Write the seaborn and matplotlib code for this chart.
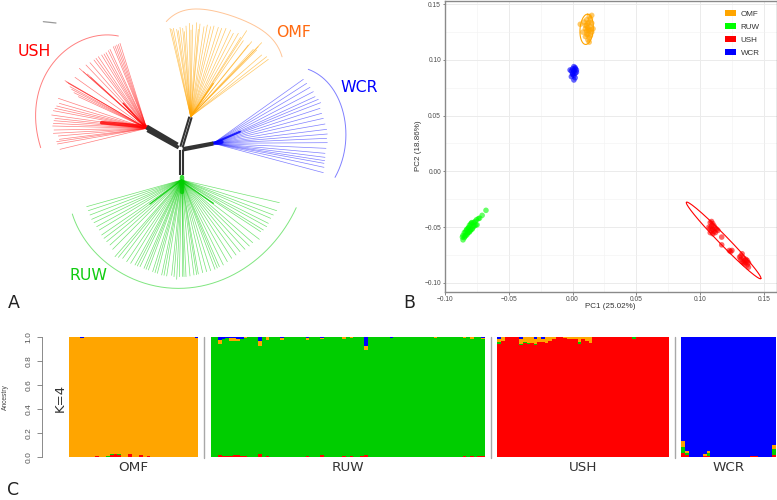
import numpy as np
import pandas as pd
import seaborn as sns
import matplotlib
matplotlib.use("Agg")
import matplotlib.pyplot as plt
from matplotlib.patches import Patch
from matplotlib.lines import Line2D

W, H = 777, 500
ORANGE, LIME, DGREEN, RED, BLUE = "#ffa500", "#00ff00", "#00cd00", "#ff0000", "#0000ff"

# ---------- Panel A: tree layout ----------
omf_hub = (572, 350)
omf_tips = [(510,85),(515,88),(520,85),(530,88),(535,92),(540,82),(548,85),(553,95),(558,78),(568,70),(573,90),(578,75),
            (590,68),(595,88),(600,72),(612,80),(622,75),(632,80),(642,78),(655,82),(665,85),(678,85),(692,90),
            (700,100),(715,100),(740,92),(722,112),(730,122),(755,125),(785,128),(770,150),(785,165),(800,170),
            (805,178),(745,135),(760,148),(775,140)]
wcr_hub = (640, 430)
wcr_tips = [(910,238),(920,250),(930,262),(940,275),(945,290),(955,298),(962,308),(960,325),(965,340),(970,355),
            (975,372),(980,388),(982,402),(980,415),(982,428),(978,445),(975,460),(975,472),(974,482),(972,490),
            (972,502),(970,518)]
ush_hub = (440, 385)
ush_tips = [(360,130),(355,133),(350,135),(345,138),(340,140),(330,148),(325,152),(318,158),(312,162),(305,165),(295,170),
            (288,175),(282,180),(270,188),(258,195),(238,205),(250,215),(262,222),(272,232),(225,232),(195,242),
            (200,246),(205,250),(210,260),(215,268),(222,278),(235,290),(175,295),(178,310),(170,318),(165,325),
            (160,332),(155,345),(165,355),(162,362),(160,370),(158,378),(162,390),(160,400),(175,408),(178,418),
            (170,425),(172,432),(180,448)]
ruw_hub = (545, 540)
ruw_tips = [(260,620),(265,632),(270,645),(275,658),(282,668),(290,680),(298,690),(305,705),(312,715),
            (320,725),(330,735),(338,748),(345,770),(355,772),(368,775),(380,785),(392,790),(405,795),(412,798),(420,800),
            (432,805),(438,808),(445,810),(458,815),(465,818),(472,820),(485,825),(492,826),(500,828),(515,826),(522,830),
            (530,838),(538,830),(545,828),(552,830),(558,830),(570,828),(582,825),(590,824),(595,822),(608,818),(620,815),
            (632,812),(645,808),(652,804),(658,800),(670,795),(682,785),(695,775),(708,765),(720,755),(735,748),
            (748,738),(758,728),(778,718),(782,695),(790,690),(800,680),(805,670),(812,655),(820,645),(830,632),(838,608)]
trunk_strands = [((440,381),(532,435),3.6),((442,391),(536,443),2.6),
                 ((568,350),(541,440),1.5),((575,352),(548,442),1.5),
                 ((640,428),(548,445),1.8),((640,433),(548,451),1.8),
                 ((540,525),(540,450),1.5),((549,525),(549,450),1.5)]
dense_parts = [((305,368),(440,380),RED,2.6),((370,310),(440,385),RED,1.2),
               ((640,430),(720,395),BLUE,1.5),((640,430),(665,426),BLUE,2.8),
               ((545,540),(450,612),DGREEN,1.0),((545,545),(640,610),DGREEN,1.0),
               ((545,530),(545,575),DGREEN,3.2),((572,350),(640,250),ORANGE,1.0)]
arcs = {
    "USH": ([(355,108),(310,105),(250,120),(190,155),(140,220),(110,300),(108,370),(122,443)], RED),
    "OMF": ([(500,65),(530,38),(580,28),(640,32),(700,50),(760,75),(810,110),(835,140),(845,170)], "#ff8c30"),
    "WCR": ([(925,208),(985,250),(1025,320),(1037,400),(1030,470),(1005,532)], BLUE),
    "RUW": ([(217,642),(270,740),(350,810),(440,850),(530,868),(620,855),(720,810),(800,750),(860,680),(888,622)], DGREEN),
}
clade_labels = [("USH",103,155,RED),("OMF",880,97,"#ff6a10"),("WCR",1078,262,BLUE),("RUW",265,827,"#11cc11")]

# ---------- Panel B: PCA scores ----------
omf_pc1 = [0.006,0.008,0.009,0.010,0.010,0.011,0.011,0.011,0.012,0.012,0.012,0.013,0.013,0.013,0.013,
           0.014,0.014,0.014,0.015,0.015,0.015,0.016,0.012,0.011,0.013,0.010,0.014,0.012]
omf_pc2 = [0.132,0.125,0.134,0.121,0.128,0.126,0.131,0.136,0.118,0.123,0.129,0.134,0.139,0.126,0.116,
           0.122,0.130,0.137,0.125,0.133,0.140,0.128,0.127,0.123,0.120,0.131,0.127,0.133]
wcr_pc1 = [-0.002,-0.001,-0.001,0.000,0.000,0.001,0.001,0.001,0.002,0.002,0.002,0.003,0.003,0.001,0.000,0.002]
wcr_pc2 = [0.091,0.090,0.085,0.088,0.092,0.082,0.086,0.090,0.093,0.088,0.084,0.091,0.089,0.094,0.087,0.092]
ruw_pc1 = [-0.0865,-0.0860,-0.0860,-0.0850,-0.0850,-0.0845,-0.0840,-0.0840,-0.0835,-0.0830,-0.0830,-0.0825,
           -0.0820,-0.0820,-0.0815,-0.0810,-0.0810,-0.0805,-0.0800,-0.0800,-0.0795,-0.0790,-0.0790,-0.0785,
           -0.0780,-0.0775,-0.0770,-0.0765,-0.0760,-0.0755,-0.0750,-0.0740,-0.0730,-0.0710,-0.0680]
ruw_pc2 = [-0.0590,-0.0615,-0.0575,-0.0595,-0.0550,-0.0585,-0.0545,-0.0575,-0.0530,-0.0570,-0.0520,-0.0555,
           -0.0510,-0.0550,-0.0505,-0.0545,-0.0485,-0.0535,-0.0475,-0.0525,-0.0465,-0.0520,-0.0460,-0.0510,
           -0.0495,-0.0460,-0.0490,-0.0450,-0.0480,-0.0435,-0.0480,-0.0425,-0.0420,-0.0395,-0.0350]
ush_pc1 = [0.107,0.108,0.108,0.108,0.109,0.109,0.109,0.110,0.110,0.110,0.111,0.111,0.112,0.112,0.113,0.114,
           0.117,0.117,0.123,0.124,0.125,0.131,0.132,0.132,0.133,0.133,0.134,0.134,0.135,0.135,0.136,0.136,
           0.137,0.137,0.138,0.138]
ush_pc2 = [-0.050,-0.046,-0.051,-0.055,-0.045,-0.049,-0.053,-0.047,-0.052,-0.056,-0.049,-0.054,-0.051,-0.055,
           -0.052,-0.053,-0.059,-0.066,-0.071,-0.072,-0.071,-0.077,-0.079,-0.076,-0.074,-0.081,-0.078,-0.082,
           -0.080,-0.083,-0.079,-0.082,-0.080,-0.084,-0.082,-0.086]
ush_ellipse = dict(center=(0.1185,-0.0620), major=(0.0292,-0.0343), minor=(0.0025,0.0029))
omf_ellipse = dict(center=(0.0110,0.1275), major=(0.0008,0.0136), minor=(0.0052,-0.0002))
groups = ["OMF","RUW","USH","WCR"]

# ---------- Panel C: ancestry per individual; entries not listed are 0 ----------
omf_n, ruw_n, ush_n, wcr_n = 35, 75, 47, 26
omf_red = {7:.005,11:.012,12:.02,13:.015,16:.025,19:.012,21:.005}
omf_green = {10:.004,11:.008,12:.006,13:.006}
omf_blue = {3:.006,34:.005}
ruw_red = {2:.012,3:.005,4:.008,5:.01,6:.012,7:.015,8:.008,9:.004,13:.02,15:.01,26:.008,30:.015,36:.005,38:.005,
           41:.005,42:.015,69:.004,71:.004,73:.004,74:.004}
ruw_orange = {2:.035,5:.02,6:.02,7:.015,9:.01,13:.045,15:.025,19:.015,26:.02,30:.015,36:.015,38:.01,42:.03,61:.008,
              69:.012,71:.015,74:.012}
ruw_blue = {2:.025,3:.015,4:.01,5:.01,6:.01,7:.02,8:.015,13:.03,19:.01,26:.008,30:.005,42:.075,49:.012,74:.005}
ush_green = {0:.015,6:.01,7:.005,8:.005,10:.012,22:.015,37:.018}
ush_orange = {0:.025,1:.03,6:.045,7:.045,8:.05,9:.05,10:.04,11:.04,12:.03,13:.05,14:.035,15:.02,18:.005,19:.015,
              20:.015,21:.02,22:.04,23:.02,24:.03,25:.05}
ush_blue = {0:.015,5:.003,6:.015,10:.015,12:.015,27:.003,41:.004}
wcr_red = {0:.03,1:.012,6:.005,7:.01,19:.005,20:.005,25:.015}
wcr_green = {0:.05,1:.02,7:.02,25:.05}
wcr_orange = {0:.05,1:.015,6:.015,7:.02,25:.035}

# ---------- drawing ----------
sns.set_theme(style="white")
plt.rcParams["font.family"] = ["Liberation Sans", "DejaVu Sans"]
fig = plt.figure(figsize=(W/100, H/100), dpi=100, facecolor="white")

def axpx(l, t, r, b):
    return fig.add_axes([l/W, 1-b/H, (r-l)/W, (b-t)/H])

def ftext(x, y, s, **kw):
    fig.text(x/W, 1-y/H, s, ha=kw.pop("ha","center"), va=kw.pop("va","center"), **kw)

VERD = "DejaVu Sans"

# Panel A
axA = axpx(0, 0, 400, 310)
axA.set_xlim(0, 1200); axA.set_ylim(930, 0); axA.axis("off")
clades = [(ush_hub, ush_tips, RED, .5), (omf_hub, omf_tips, ORANGE, .6),
          (wcr_hub, wcr_tips, BLUE, .5), (ruw_hub, ruw_tips, DGREEN, .55)]
for hub, tips, col, al in clades:
    rows = []
    for i, (tx, ty) in enumerate(tips):
        rows += [(i, hub[0], hub[1]), (i, tx, ty)]
    df = pd.DataFrame(rows, columns=["edge","x","y"])
    sns.lineplot(data=df, x="x", y="y", units="edge", estimator=None, sort=False,
                 color=col, lw=0.5, alpha=al, ax=axA, legend=False)
for p0, p1, col, lw in dense_parts:
    axA.plot([p0[0],p1[0]], [p0[1],p1[1]], color=col, lw=lw, alpha=.8, solid_capstyle="round")
for p0, p1, lw in trunk_strands:
    axA.plot([p0[0],p1[0]], [p0[1],p1[1]], color="#333333", lw=lw, solid_capstyle="butt")
axA.plot([130,168], [65,69], color="#999999", lw=0.9)
for name, (pts, col) in arcs.items():
    a = np.array(pts, float)
    t = np.r_[0, np.cumsum(np.hypot(*np.diff(a, axis=0).T))]
    t /= t[-1]
    tt = np.linspace(0, 1, 200)
    axA.plot(np.polyval(np.polyfit(t, a[:,0], 4), tt), np.polyval(np.polyfit(t, a[:,1], 4), tt),
             color=col, lw=0.7, alpha=.5)
for s, x, y, c in clade_labels:
    axA.text(x, y, s, color=c, fontsize=11.3, family=VERD, ha="center", va="center")

# Panel B
axB = axpx(445.2, 1, 776.5, 292)
axB.set_xlim(-0.10, 0.16); axB.set_ylim(-0.1083, 0.1529)
pts = pd.concat([
    pd.DataFrame({"pc1":omf_pc1,"pc2":omf_pc2,"g":"OMF"}),
    pd.DataFrame({"pc1":ruw_pc1,"pc2":ruw_pc2,"g":"RUW"}),
    pd.DataFrame({"pc1":ush_pc1,"pc2":ush_pc2,"g":"USH"}),
    pd.DataFrame({"pc1":wcr_pc1,"pc2":wcr_pc2,"g":"WCR"}),
])
pal = dict(zip(groups, [ORANGE, LIME, RED, BLUE]))
sns.scatterplot(data=pts, x="pc1", y="pc2", hue="g", palette=pal, s=16, alpha=.6, linewidth=0,
                legend=False, ax=axB, zorder=3)
th = np.linspace(0, 2*np.pi, 200)
for e, c in [(ush_ellipse, RED), (omf_ellipse, ORANGE)]:
    axB.plot(e["center"][0]+np.cos(th)*e["major"][0]+np.sin(th)*e["minor"][0],
             e["center"][1]+np.cos(th)*e["major"][1]+np.sin(th)*e["minor"][1], color=c, lw=0.8, zorder=4)
axB.set_xticks([-0.10,-0.05,0,0.05,0.10,0.15]); axB.set_yticks([-0.10,-0.05,0,0.05,0.10,0.15])
axB.set_xticklabels(["\u22120.10","\u22120.05","0.00","0.05","0.10","0.15"])
axB.set_yticklabels(["\u22120.10","\u22120.05","0.00","0.05","0.10","0.15"])
axB.set_xticks([-0.075,-0.025,0.025,0.075,0.125], minor=True)
axB.set_yticks([-0.075,-0.025,0.025,0.075,0.125], minor=True)
axB.grid(True, which="major", color="#ebebeb", lw=0.7)
axB.grid(True, which="minor", color="#f2f2f2", lw=0.4)
axB.set_axisbelow(True)
axB.tick_params(which="major", length=1.8, width=0.5, color="#555555", labelsize=4.8, labelcolor="#4d4d4d",
                pad=1.2, bottom=True, left=True)
axB.tick_params(which="minor", length=0)
for sp in axB.spines.values():
    sp.set_color("#8a8a8a"); sp.set_linewidth(1.0)
axB.set_xlabel(""); axB.set_ylabel("")
ftext(610.7, 307, "PC1 (25.02%)", fontsize=5.8, color="#333333")
ftext(419, 146, "PC2 (18.86%)", fontsize=5.8, color="#333333", rotation=90)
hs = [Patch(facecolor=pal[g], edgecolor="none", label=g) for g in groups]
axB.legend(handles=hs, loc="upper left", frameon=False, fontsize=5.8, labelcolor="#333333",
           bbox_to_anchor=((725-445.2)/331.3, 1-(10-1)/291), borderaxespad=0, borderpad=0,
           handlelength=1.33, handleheight=0.85, labelspacing=0.62, handletextpad=0.6)

# Panel C
def full(n, d):
    v = np.zeros(n)
    for k, x in d.items():
        v[k] = x
    return v

panels = [
    ("OMF", (69.3,337,198.3,456.7), omf_n, dict(red=omf_red, green=omf_green, blue=omf_blue), "orange", ORANGE),
    ("RUW", (210.7,337,484.7,456.7), ruw_n, dict(red=ruw_red, orange=ruw_orange, blue=ruw_blue), "green", DGREEN),
    ("USH", (497.3,337,669,456.7), ush_n, dict(green=ush_green, orange=ush_orange, blue=ush_blue), "red", RED),
    ("WCR", (681.3,337,775.7,456.7), wcr_n, dict(red=wcr_red, green=wcr_green, orange=wcr_orange), "blue", BLUE),
]
first = True
for name, box, n, parts, main, maincol in panels:
    ax = axpx(*box)
    ax.set_facecolor(maincol)
    comp = {k: full(n, parts.get(k, {})) for k in ["red","green","orange","blue"]}
    comp[main] = 1 - sum(v for k, v in comp.items() if k != main)
    cum_red = comp["red"]; cum_green = cum_red + comp["green"]
    cum_orange = cum_green + comp["orange"]; cum_blue = cum_orange + comp["blue"]
    x = np.arange(n)
    for cum, col in [(cum_blue, BLUE), (cum_orange, ORANGE), (cum_green, DGREEN), (cum_red, RED)]:
        sns.barplot(x=x, y=cum, color=col, width=1, saturation=1, errorbar=None, linewidth=0, ax=ax)
    for p in ax.patches:
        p.set_antialiased(False)
    ax.set_xlim(-0.5, n-0.5); ax.set_ylim(0, 1)
    ax.set_xticks([]); ax.set_xlabel(""); ax.set_ylabel("")
    for sp in ax.spines.values():
        sp.set_visible(False)
    if first:
        ax.spines["left"].set_visible(True)
        ax.spines["left"].set_position(("outward", 19.9))
        ax.spines["left"].set_color("#777777"); ax.spines["left"].set_linewidth(0.6)
        ax.set_yticks([0,.2,.4,.6,.8,1.0])
        ax.set_yticklabels(["0.0","0.2","0.4","0.6","0.8","1.0"], rotation=90, va="center")
        ax.tick_params(axis="y", left=True, length=3.6, width=0.6, color="#777777",
                       labelsize=6, labelcolor="#555555", pad=3)
        first = False
    else:
        ax.set_yticks([])
    ftext((box[0]+box[2])/2, 467.7, name, fontsize=9.7, color="#333333", family=VERD)

for xs in [204, 490.7, 675]:
    fig.add_artist(Line2D([xs/W, xs/W], [1-337/H, 1-458/H], color="#a8a8a8", lw=1.0))

ftext(5, 397.5, "Ancestry", fontsize=4.8, color="#444444", rotation=90)
ftext(60, 398, "K=4", fontsize=9.6, color="#333333", rotation=90, family=VERD)
for s, x, y in [("A",14,303),("B",409,303),("C",13,490)]:
    ftext(x, y, s, fontsize=12.5, color="#222222", family=VERD)

fig.savefig("out.png", dpi=100, facecolor="white")
